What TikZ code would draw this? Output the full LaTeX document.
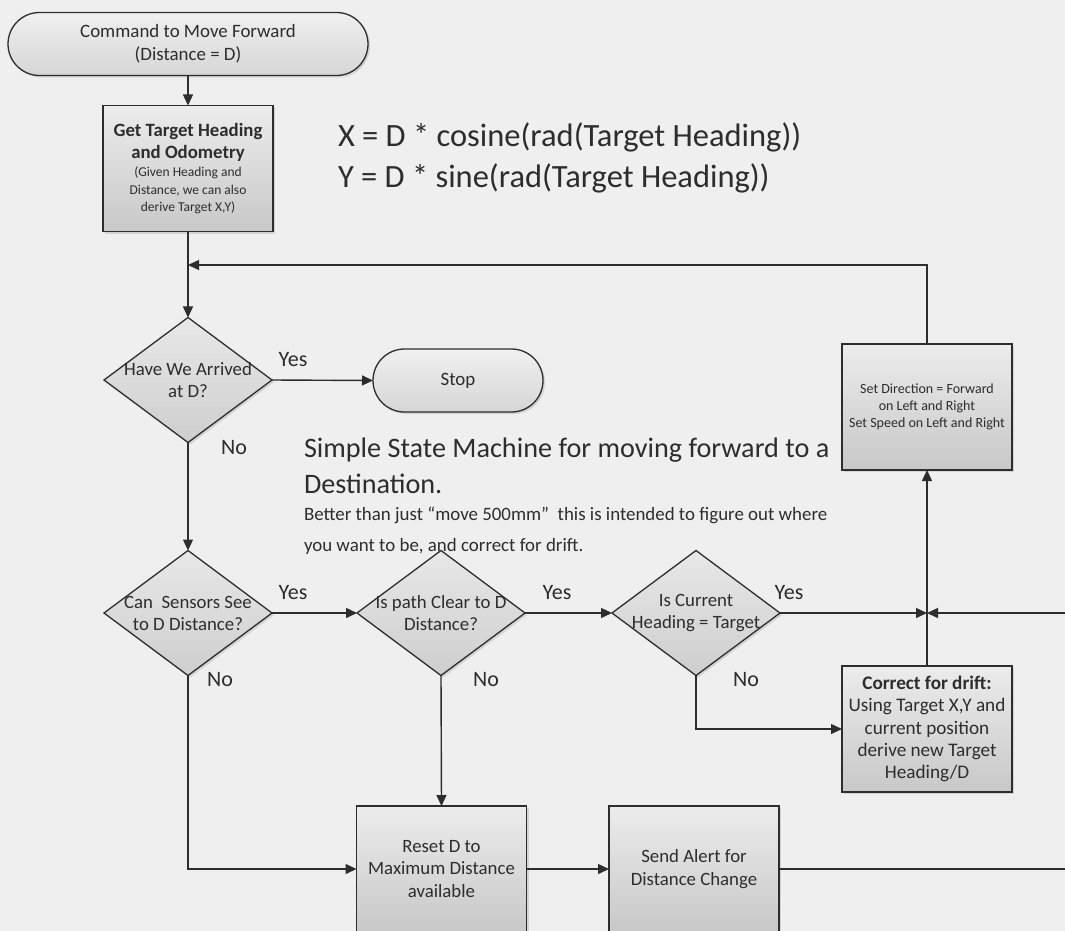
\documentclass[tikz,border=0pt]{standalone}
\usepackage{fontspec}
\setmainfont{Carlito}
\usetikzlibrary{arrows.meta,shapes.geometric,shadows}

\definecolor{paper}{RGB}{239,239,239}
\definecolor{ink}{RGB}{45,45,45}
\definecolor{boxtop}{RGB}{236,236,236}
\definecolor{boxbot}{RGB}{200,200,200}
\definecolor{dectop}{RGB}{232,232,232}
\definecolor{decbot}{RGB}{206,206,206}
\definecolor{termtop}{RGB}{240,240,240}
\definecolor{termbot}{RGB}{214,214,214}

\newcommand{\fs}[2]{\fontsize{#1}{#2}\selectfont}
\newcommand{\fine}{\fs{13.5}{16.5}}

\begin{document}
\begin{tikzpicture}[x=1pt,y=-1pt,
  every node/.style={text=ink, inner sep=0pt, outer sep=0pt},
  flow/.style={draw=ink, line width=1.4pt},
  arr/.style={flow, -{Triangle[length=11pt,width=10pt]}},
  soft/.style={drop shadow={shadow xshift=2pt, shadow yshift=-2pt, opacity=0.25}},
  procbox/.style={rectangle, draw=ink, line width=1.3pt, soft,
    minimum width=170pt, minimum height=126pt,
    top color=boxtop, bottom color=boxbot, align=center, font=\fs{18.8}{22.4}},
  terminal/.style={rectangle, rounded corners=31.5pt, draw=ink, line width=1.3pt, soft,
    minimum height=63pt, top color=termtop, bottom color=termbot,
    align=center, font=\fs{18.9}{23}},
  decision/.style={diamond, draw=ink, line width=1.3pt, soft,
    minimum width=168pt, minimum height=125pt,
    top color=dectop, bottom color=decbot},
  dtext/.style={align=center, font=\fs{18.8}{22}},
  answer/.style={font=\fs{22}{24}},
]
\useasboundingbox (0,0) rectangle (1065,931);
\fill[paper] (0,0) rectangle (1065,931);
\clip (0,0) rectangle (1065,931);

% ---- shapes ----
\node[terminal, minimum width=360pt] (start) at (188,44)
  {Command to Move Forward\\(Distance = D)};
\node[procbox] (target) at (188,168.5)
  {\textbf{Get Target Heading}\\\textbf{and Odometry}\\[-4pt]
   \fine(Given Heading and\\[-5pt]\fine Distance, we can also\\[-5pt]\fine derive Target X,Y)};

\node[decision] (arrived) at (188,380) {};
\node[dtext] (arrivedt) at (arrived.center) {Have We Arrived\\at D?};
\node[terminal, minimum width=170pt] (stop) at (458,380.5) {Stop};

\node[decision] (sensors) at (188,613) {};
\node[dtext] (sensorst) at (sensors.center) {Can\ \ Sensors See\\to D Distance?};
\node[decision] (clear) at (441,613) {};
\node[dtext] (cleart) at (clear.center) {Is path Clear to D\\Distance?};
\node[decision] (heading) at (696,613) {};
\node[dtext] (headingt) at (heading.center) {Is Current\\Heading = Target};

\node[procbox, font=\fs{14}{17}] (setdir) at (927,407)
  {Set Direction = Forward\\on Left and Right\\Set Speed on Left and Right};
\node[procbox, font=\fs{19.2}{22.4}] (drift) at (927,729)
  {\textbf{Correct for drift:}\\Using Target X,Y and\\current position\\derive new Target\\Heading/D};
\node[procbox] (reset) at (441.5,869)
  {Reset D to\\Maximum Distance\\available};
\node[procbox] (alert) at (694,869)
  {Send Alert for\\Distance Change};

% ---- free text ----
\node[anchor=west, align=left, font=\fs{32.5}{41}] (formula) at (338,157.5)
  {X = D * cosine(rad(Target Heading))\\Y = D * sine(rad(Target Heading))};
\node[anchor=west, align=left, font=\fs{28.2}{36}] (title) at (304,466)
  {Simple State Machine for moving forward to a\\Destination.};
\node[anchor=west, align=left, font=\fs{18.9}{31}] (note) at (304,530.5)
  {Better than just “move 500mm”\ \ this is intended to figure out where\\you want to be, and correct for drift.};

% ---- junctions and off-page ends ----
\coordinate (loop) at (188,265);
\coordinate (merge) at (927,613);
\coordinate (edgeA) at (1066,613);
\coordinate (edgeB) at (1066,869);

% ---- connectors ----
\draw[arr] (start) -- (target);
\draw[arr] (target) -- (arrived);
\draw[arr] (setdir.north) |- (loop);
\draw[arr] (arrived.east) -- (stop.west);
\draw[arr] (arrived.south) -- (sensors.north);
\draw[arr] (sensors.east) -- (clear.west);
\draw[arr] (clear.east) -- (heading.west);
\draw[arr] (heading.east) -- (merge);
\draw[arr] (edgeA) -- (merge);
\draw[arr] (drift.north) -- (setdir.south);
\draw[arr] (heading.south) |- (drift.west);
\draw[arr] (sensors.south) |- (reset.west);
\draw[arr] (clear.south) -- (reset.north);
\draw[arr] (reset.east) -- (alert.west);
\draw[flow] (alert.east) -- (edgeB);

% ---- branch labels ----
\node[answer] (y1) at (293,360) {Yes};
\node[answer] (n1) at (234,448) {No};
\node[answer] (y2) at (293,593) {Yes};
\node[answer] (n2) at (220,680) {No};
\node[answer] (y3) at (557,593) {Yes};
\node[answer] (n3) at (486,680) {No};
\node[answer] (y4) at (789,593) {Yes};
\node[answer] (n4) at (746,680) {No};
\end{tikzpicture}
\end{document}
